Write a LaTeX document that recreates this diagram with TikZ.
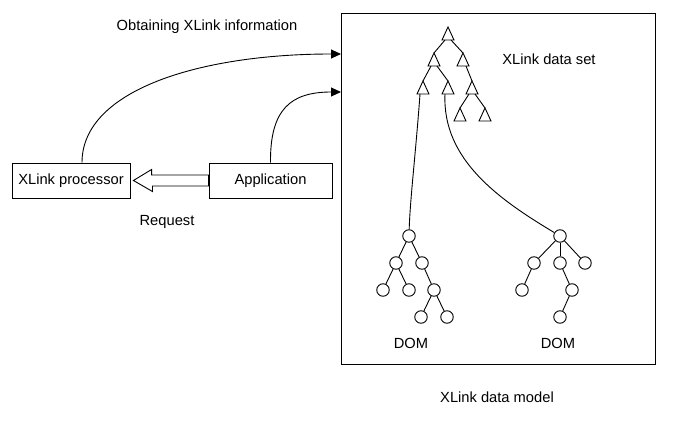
\documentclass[tikz,border=0pt]{standalone}
\usepackage{fontspec}
\setmainfont{Liberation Sans}
\usetikzlibrary{arrows.meta,calc}
\begin{document}
\begin{tikzpicture}[x=1pt,y=-1pt,line width=0.9pt,
  every node/.style={font=\fontsize{14.7}{17}\selectfont},
  box/.style={draw,minimum height=35pt,inner sep=0pt},
  dnode/.style={draw,circle,minimum size=12.5pt,inner sep=0pt},
  tri/.pic={\draw (0,-7) -- (6,6) -- (-6,6) -- cycle;
    \coordinate (-a) at (0,-7); \coordinate (-bl) at (-3,6);
    \coordinate (-br) at (3,6); \coordinate (-b) at (0,6);},
  arr/.style={-{Triangle[length=10pt,width=9pt]}}]
\useasboundingbox (0,0) rectangle (675,431);
% frame
\node[draw,minimum width=314pt,minimum height=351pt,inner sep=0pt] (model) at (498,188.5) {};
\coordinate (in1) at (341,54);
\coordinate (in2) at (341,92);
% boxes
\node[box,minimum width=118pt] (proc) at (71,180.5) {XLink processor};
\node[box,minimum width=123pt] (app) at (270.5,180.5) {Application};
% hollow arrow
\draw[line join=miter] ([yshift=5.5pt]app.west) -- ++(-57,0) -- ++(0,-5.5)
  -- ([xshift=3pt]proc.east) -- ++(19,11) -- ++(0,-5.5)
  -- ([yshift=-5.5pt]app.west) -- cycle;
% texts
\node (obt) at (207,27) {Obtaining XLink information};
\node (req) at (167,222) {Request};
\node (dset) at (549,59) {XLink data set};
\node (dom1) at (411,343) {DOM};
\node (dom2) at (558,343) {DOM};
\node (dmod) at (497,397) {XLink data model};
% curved arrows
\draw[arr] ([xshift=11pt]proc.north) .. controls (82,90) and (200,54) .. (in1);
\draw[arr] (app.north) .. controls (270,110) and (290,92) .. (in2);
% triangle tree
\pic (t1) at (448,34) {tri};
\pic (t2) at (434,60) {tri};
\pic (t3) at (463,60) {tri};
\pic (t4) at (423,88) {tri};
\pic (t5) at (448,88) {tri};
\pic (t6) at (472,88) {tri};
\pic (t7) at (460,115) {tri};
\pic (t8) at (485,115) {tri};
\draw (t1-bl) -- (t2-a);
\draw (t1-br) -- (t3-a);
\draw (t2-bl) -- (t4-a);
\draw (t2-br) -- (t5-a);
\draw (t3-br) -- (t6-a);
\draw (t6-bl) -- (t7-a);
\draw (t6-br) -- (t8-a);
% DOM 1
\node[dnode] (a0) at (409,236) {};
\node[dnode] (a1) at (396,263) {};
\node[dnode] (a2) at (422,263) {};
\node[dnode] (a3) at (383,290) {};
\node[dnode] (a4) at (409,290) {};
\node[dnode] (a5) at (434,290) {};
\node[dnode] (a6) at (421,317) {};
\node[dnode] (a7) at (447,317) {};
\draw (a0) -- (a1); \draw (a0) -- (a2);
\draw (a1) -- (a3); \draw (a1) -- (a4);
\draw (a2) -- (a5);
\draw (a5) -- (a6); \draw (a5) -- (a7);
% DOM 2
\node[dnode] (b0) at (560,236) {};
\node[dnode] (b1) at (534,263) {};
\node[dnode] (b2) at (560,263) {};
\node[dnode] (b3) at (585,263) {};
\node[dnode] (b4) at (522,290) {};
\node[dnode] (b5) at (572,290) {};
\node[dnode] (b6) at (560,317) {};
\draw (b0) -- (b1); \draw (b0) -- (b2); \draw (b0) -- (b3);
\draw (b1) -- (b4);
\draw (b2) -- (b5);
\draw (b5) -- (b6);
% links tree -> DOMs
\draw (t4-bl) .. controls (416,150) and (410,200) .. (a0);
\draw (t5-bl) .. controls (442,160) and (500,200) .. (b0);
\end{tikzpicture}
\end{document}
